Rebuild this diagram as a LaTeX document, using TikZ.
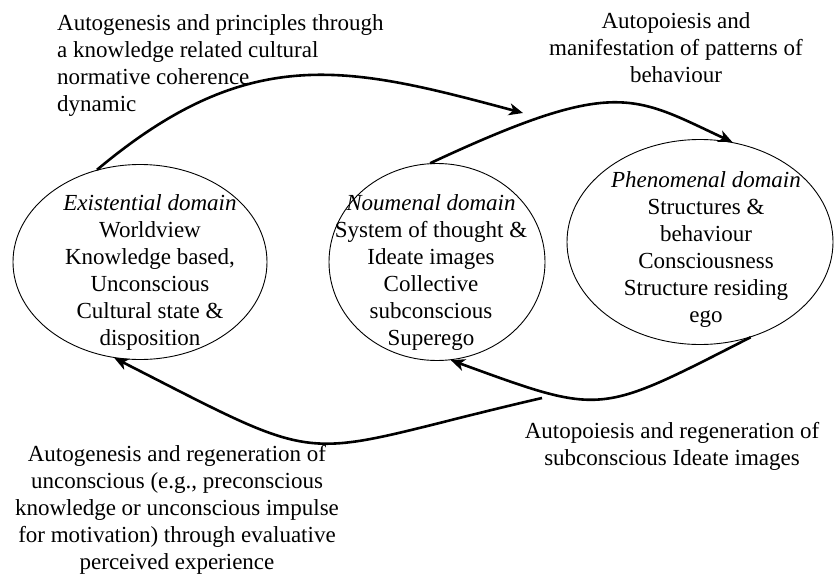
\documentclass[tikz,border=0pt]{standalone}
\usepackage{fontspec}
\setmainfont{Liberation Serif}
\usetikzlibrary{shapes.geometric,arrows.meta}
\begin{document}
\begin{tikzpicture}[x=1pt,y=1pt,
  domainbox/.style={draw,ellipse,line width=0.9pt,inner sep=0pt},
  txt/.style={align=center,inner sep=0pt,font=\fontsize{23}{27}\selectfont},
  flow/.style={line width=2.6pt,-{Stealth[length=14pt,width=12pt,inset=4pt]}}]
\useasboundingbox (0,0) rectangle (835,-573);
% the three domains
\node[domainbox,minimum width=254pt,minimum height=195pt] (exist) at (140,-262) {};
\node[domainbox,minimum width=216pt,minimum height=197pt] (noum) at (437,-262) {};
\node[domainbox,minimum width=266pt,minimum height=205pt] (phen) at (700,-242) {};
\node[txt,anchor=north] (existtxt) at (150,-194) {\textit{Existential domain}\\Worldview\\Knowledge based,\\Unconscious\\Cultural state \&\\disposition};
\node[txt,anchor=north] (noumtxt) at (431,-194) {\textit{Noumenal domain}\\System of thought \&\\Ideate images\\Collective\\subconscious\\Superego};
\node[txt,anchor=north] (phentxt) at (706,-171) {\textit{Phenomenal domain}\\Structures \&\\behaviour\\Consciousness\\Structure residing\\ego};
% labels of the flows
\node[txt,align=left,anchor=north west] (lbltl) at (57,-14) {Autogenesis and principles through\\a knowledge related cultural\\normative coherence\\dynamic};
\node[txt,anchor=north] (lbltr) at (676,-12) {Autopoiesis and\\manifestation of patterns of\\behaviour};
\node[txt,anchor=north] (lblbl) at (177,-445) {Autogenesis and regeneration of\\unconscious (e.g., preconscious\\knowledge or unconscious impulse\\for motivation) through evaluative\\perceived experience};
\node[txt,anchor=north] (lblbr) at (672,-422) {Autopoiesis and regeneration of\\subconscious Ideate images};
% flows
\coordinate (tipa) at (523,-113);
\coordinate (tailb) at (542,-398);
\draw[flow] (exist.115) .. controls +(40:200) and +(165:180) .. (tipa);
\draw[flow] (noum.94) .. controls +(25:205) and +(155:110) .. (phen.72);
\draw[flow] (phen.298) .. controls +(207:172) and +(340:163) .. (noum.278);
\draw[flow] (tailb) .. controls +(193:260) and +(333:253) .. (exist.255);
\end{tikzpicture}
\end{document}
